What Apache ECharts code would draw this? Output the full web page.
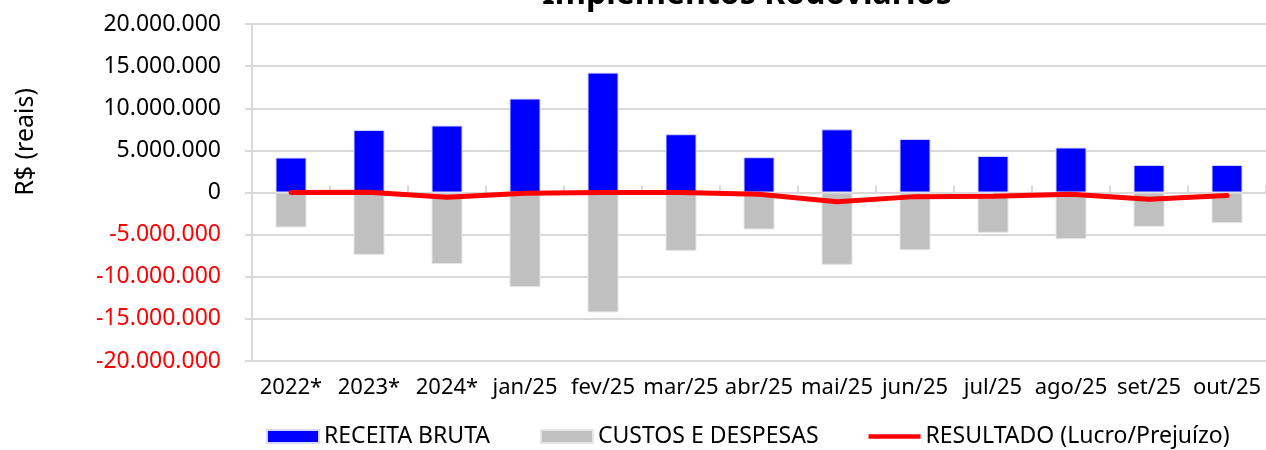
<!DOCTYPE html>
<html>
<head>
<meta charset="utf-8">
<script src="https://cdn.jsdelivr.net/npm/echarts@6/dist/echarts.min.js"></script>
<style>
  html, body { margin: 0; padding: 0; background: #fff; }
  #main { width: 1266px; height: 450px; }
</style>
</head>
<body>
<div id="main"></div>
<script>
const categories = ['2022*', '2023*', '2024*', 'jan/25', 'fev/25', 'mar/25', 'abr/25', 'mai/25', 'jun/25', 'jul/25', 'ago/25', 'set/25', 'out/25'];
const receita = [4150000, 7430000, 7950000, 11150000, 14230000, 6920000, 4190000, 7500000, 6360000, 4340000, 5340000, 3270000, 3270000];
const custos = [-4150000, -7400000, -8500000, -11230000, -14230000, -6930000, -4390000, -8590000, -6850000, -4790000, -5540000, -4080000, -3640000];
const resultado = [0, 30000, -550000, -80000, 0, -10000, -200000, -1090000, -490000, -450000, -200000, -810000, -370000];

const font = 'Noto Sans';
const chart = echarts.init(document.getElementById('main'));

function fmt(v) {
  const s = Math.abs(v).toString().replace(/\B(?=(\d{3})+(?!\d))/g, '.');
  return v < 0 ? '-' + s : s;
}

const option = {
  backgroundColor: '#fff',
  animation: false,
  textStyle: { fontFamily: font },
  title: {
    text: 'Implementos Rodoviários',
    left: 747,
    textAlign: 'center',
    top: -21,
    padding: 0,
    textStyle: { fontFamily: font, fontWeight: 'bold', fontSize: 32, color: '#000' }
  },
  graphic: [{
    type: 'text',
    left: 13,
    top: 88,
    rotation: Math.PI / 2,
    style: { text: 'R$ (reais)', font: '25px "Noto Sans"', fill: '#000' }
  }],
  legend: {
    left: 266,
    top: 425,
    padding: 0,
    itemWidth: 52,
    itemHeight: 13,
    itemGap: 50,
    textStyle: { fontFamily: font, fontSize: 23, color: '#000' },
    data: [
      { name: 'RECEITA BRUTA', icon: 'rect' },
      { name: 'CUSTOS E DESPESAS', icon: 'rect' },
      { name: 'RESULTADO (Lucro/Prejuízo)', icon: 'path://M0,0L56,0L56,5L0,5Z' }
    ]
  },
  grid: { left: 252, right: 0, top: 24, bottom: 89 },
  xAxis: [{
    type: 'category',
    data: categories,
    axisLine: { show: false, onZero: false },
    axisTick: { show: false },
    axisLabel: { interval: 0, fontFamily: font, fontSize: 22, color: '#000', margin: 16 }
  }, {
    type: 'category',
    data: categories,
    axisLine: { onZero: true, lineStyle: { color: '#d9d9d9', width: 2 } },
    axisTick: { show: true, length: 7, lineStyle: { color: '#d9d9d9', width: 2 } },
    axisLabel: { show: false }
  }],
  yAxis: {
    type: 'value',
    min: -20000000,
    max: 20000000,
    interval: 5000000,
    axisLine: { show: true, lineStyle: { color: '#d9d9d9', width: 2 } },
    axisTick: { show: true, length: 7, lineStyle: { color: '#d9d9d9', width: 2 } },
    splitLine: { lineStyle: { color: '#d9d9d9', width: 2 } },
    axisLabel: {
      fontFamily: font,
      fontSize: 23,
      margin: 31,
      formatter: v => fmt(v),
      color: v => (v < 0 ? '#ff0000' : '#000')
    }
  },
  series: [
    {
      name: 'RECEITA BRUTA',
      type: 'bar',
      data: receita,
      barWidth: 31,
      barGap: '-100%',
      itemStyle: { color: '#0000ff', borderColor: '#d8d8ff', borderWidth: 1 }
    },
    {
      name: 'CUSTOS E DESPESAS',
      type: 'bar',
      data: custos,
      barWidth: 31,
      itemStyle: { color: '#c0c0c0', borderColor: '#e6e6e6', borderWidth: 1 }
    },
    {
      name: 'RESULTADO (Lucro/Prejuízo)',
      type: 'line',
      data: resultado,
      symbol: 'none',
      lineStyle: { color: '#ff0000', width: 5, cap: 'round', join: 'round' },
      itemStyle: { color: '#ff0000' },
      z: 5
    }
  ]
};

chart.setOption(option);
</script>
</body>
</html>
